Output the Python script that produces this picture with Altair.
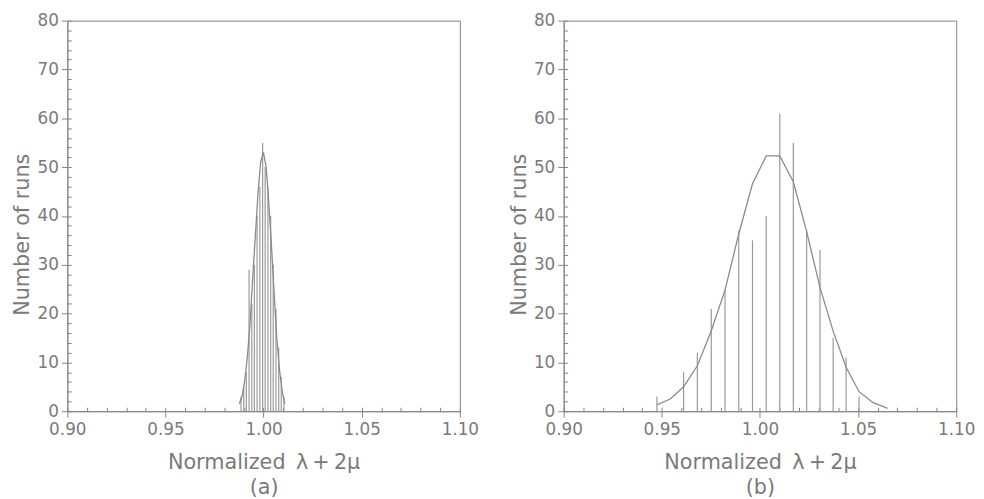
import altair as alt
import pandas as pd

# Panel (a): narrow histogram
a_bar_x = [0.9885, 0.9899, 0.9912, 0.9926, 0.9940, 0.9953, 0.9967, 0.9981, 0.9995,
           1.0008, 1.0022, 1.0036, 1.0049, 1.0063, 1.0077, 1.0090, 1.0104]
a_bar_n = [3, 5, 8, 29, 22, 30, 40, 46, 55, 50, 46, 40, 30, 21, 13, 7, 3]
a_fit_x = [0.9876, 0.9890, 0.9903, 0.9917, 0.9931, 0.9944, 0.9958, 0.9972, 0.9985,
           0.9999, 1.0013, 1.0026, 1.0040, 1.0054, 1.0067, 1.0081, 1.0095, 1.0108]
a_fit_n = [1.5, 3, 6, 11, 18, 27, 36, 45, 51, 53, 50, 43, 34, 24, 15, 8.5, 4, 1.5]

# Panel (b): wide histogram
b_bar_x = [0.9475, 0.9611, 0.9681, 0.9752, 0.9822, 0.9892, 0.9962, 1.0032, 1.0101,
           1.0170, 1.0238, 1.0306, 1.0373, 1.0439, 1.0505]
b_bar_n = [3, 8, 12, 21, 25, 37, 35, 40, 61, 55, 37, 33, 15, 11, 3]
b_fit_x = [0.9475, 0.9543, 0.9611, 0.9681, 0.9752, 0.9822, 0.9892, 0.9962, 1.0032,
           1.0101, 1.0170, 1.0238, 1.0306, 1.0373, 1.0439, 1.0505, 1.0575, 1.0650]
b_fit_n = [1.3, 2.5, 5, 9.3, 16.5, 24.8, 36.3, 46.6, 52.3, 52.3, 47, 36.8, 25.3,
           16.4, 9, 4, 1.8, 0.6]

x_major = [0.90, 0.95, 1.00, 1.05, 1.10]
x_minor = [round(0.90 + 0.01 * i, 2) for i in range(21)]
y_major = [0, 10, 20, 30, 40, 50, 60, 70, 80]
y_minor = list(range(0, 81, 2))

GRAY = "#858585"
TEXT = "#7a7a7a"
X_TITLE = "Normalized\u2002\u03bb\u2009+\u20092\u03bc"


def panel(bx, bn, fx, fn, label):
    bars = pd.DataFrame({"x": bx, "n": bn})
    fit = pd.DataFrame({"x": fx, "n": fn})
    xs = alt.Scale(domain=[0.9, 1.1], nice=False, zero=False)
    ys = alt.Scale(domain=[0, 80], nice=False)
    x_axis = alt.Axis(values=x_major, format=".2f", title=[X_TITLE, label],
                      tickSize=6, labelFlush=False, grid=False, labelPadding=5,
                      titlePadding=14, titleLineHeight=25)
    y_axis = alt.Axis(values=y_major, format="d", title="Number of runs",
                      tickSize=6, grid=False, labelPadding=3,
                      titleX=-45, titleY=216, titleAlign="center",
                      titleBaseline="middle", titleAngle=270)
    x_minor_axis = alt.Axis(values=x_minor, orient="bottom", labels=False, domain=False,
                            tickSize=4, offset=-4, grid=False, title=None)
    y_minor_axis = alt.Axis(values=y_minor, orient="left", labels=False, domain=False,
                            tickSize=4, offset=-4, grid=False, title=None)
    bar_layer = alt.Chart(bars).mark_rule(color="#9a9a9a", strokeWidth=1.2).encode(
        x=alt.X("x:Q", scale=xs, axis=x_axis),
        y=alt.Y("n:Q", scale=ys, axis=y_axis),
        y2=alt.datum(0),
    )
    fit_layer = alt.Chart(fit).mark_line(color="#8a8a8a", strokeWidth=1.3).encode(
        x=alt.X("x:Q", scale=xs, axis=x_minor_axis),
        y=alt.Y("n:Q", scale=ys, axis=y_minor_axis),
    )
    return alt.layer(bar_layer, fit_layer).resolve_axis(x="independent", y="independent").properties(
        width=397, height=395
    )


chart = alt.hconcat(
    panel(a_bar_x, a_bar_n, a_fit_x, a_fit_n, "(a)"),
    panel(b_bar_x, b_bar_n, b_fit_x, b_fit_n, "(b)"),
    spacing=28,
).properties(
    padding={"left": 3, "top": 0, "right": 0, "bottom": 0}
).configure_view(
    stroke=GRAY, strokeWidth=1
).configure_axis(
    labelFont="DejaVu Sans", labelFontSize=17, labelColor=TEXT,
    titleFont="DejaVu Sans", titleFontSize=21, titleFontWeight="normal", titleColor=TEXT,
    domainColor=GRAY, tickColor=GRAY,
)

chart.save("out.html", embed_options={"renderer": "svg", "actions": False})
